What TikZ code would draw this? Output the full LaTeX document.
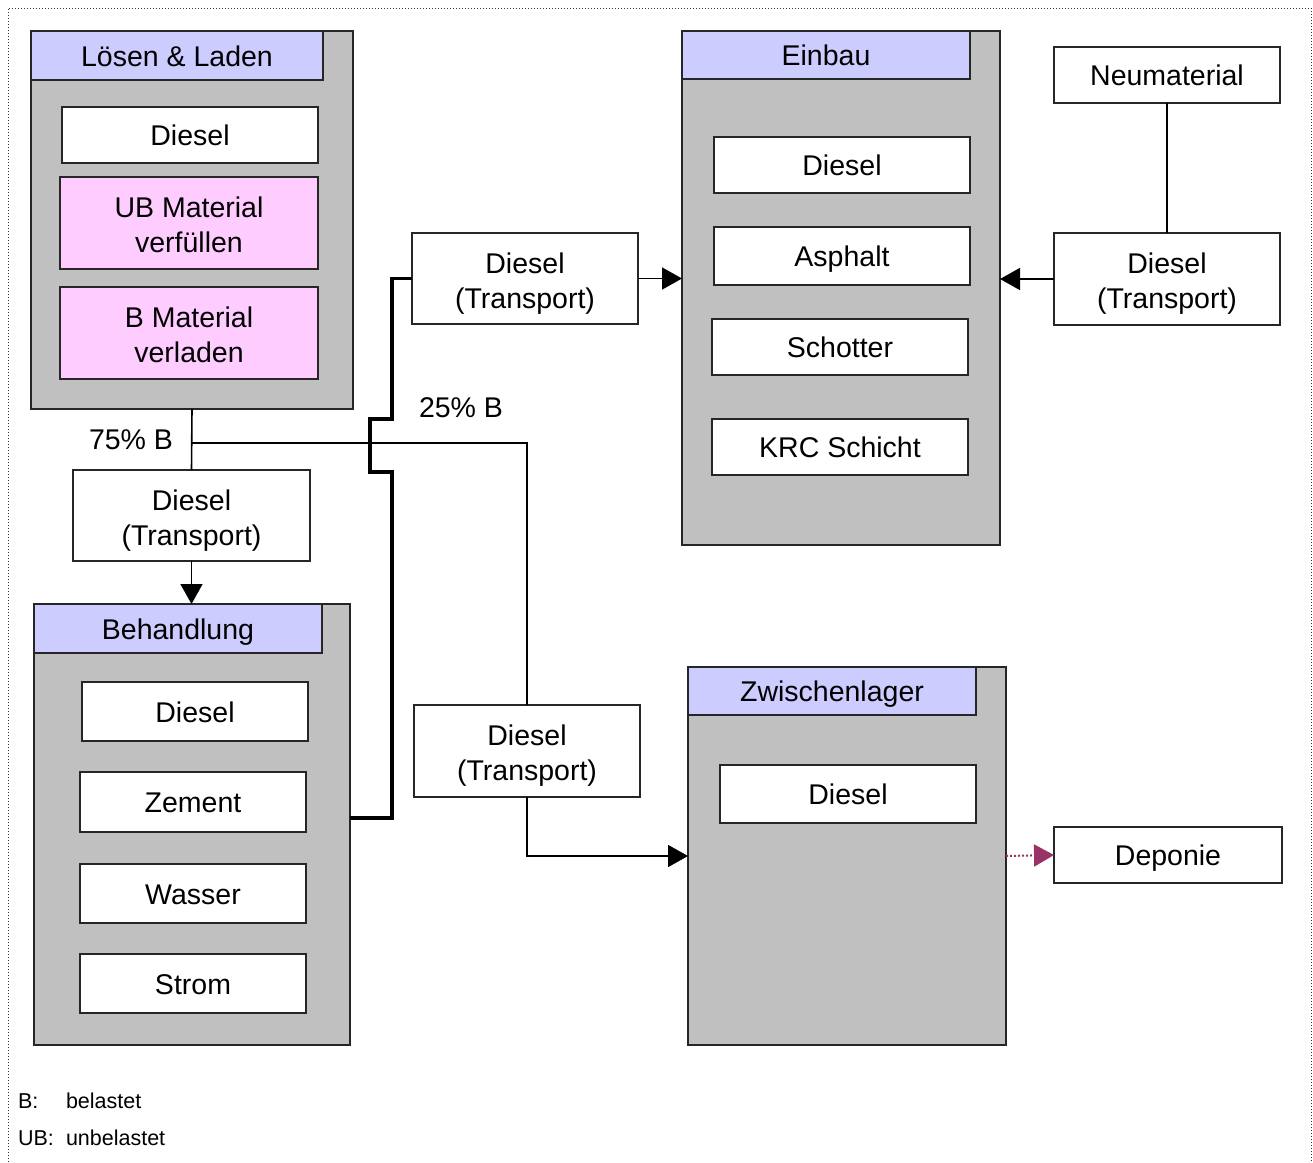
\documentclass[tikz,border=0pt]{standalone}
\usepackage{fontspec}
\setmainfont{Liberation Sans}
\usetikzlibrary{arrows.meta}
\definecolor{groupgray}{HTML}{C0C0C0}
\definecolor{headblue}{HTML}{CCCCFF}
\definecolor{matpink}{HTML}{FFCCFF}
\definecolor{depviolet}{HTML}{993366}
% two centred lines, set on a common cap line and without the descender of the last line
\newcommand{\twolines}[2]{\rule{0pt}{24.5pt}#1\\\raisebox{0pt}[\height][0pt]{#2}}
\begin{document}
\begin{tikzpicture}[x=1pt,y=-1pt,
  every node/.style={font=\fontsize{28.5}{35}\selectfont, inner sep=0pt, outer sep=0pt},
  group/.style={draw=black!85, line width=1.6pt, fill=groupgray, anchor=north west},
  header/.style={draw=black!85, line width=1.6pt, fill=headblue, anchor=north west,
    text height=21pt, text depth=0pt},
  item/.style={draw=black!85, line width=1.6pt, fill=white, text height=21pt, text depth=0pt},
  multiitem/.style={draw=black!85, line width=1.6pt, fill=white, align=center},
  pinkitem/.style={multiitem, fill=matpink},
  flow/.style={line width=1.6pt, draw=black},
  mainflow/.style={line width=3.2pt, draw=black},
  arr/.style={flow, -{Triangle[length=20pt,width=22pt]}},
  deparr/.style={line width=2pt, draw=depviolet, dotted, -{Triangle[length=20pt,width=22pt,fill=depviolet]}},
  legend/.style={font=\fontsize{21.5}{25}\selectfont, anchor=base west}]

\useasboundingbox (0,0) rectangle (1313,1162);
% frame, open at the bottom
\draw[black!80, line width=1pt, dotted] (8,1162) -- (8,8) -- (1311,8) -- (1311,1162);

% --- Loesen & Laden ---
\node[group, minimum width=322pt, minimum height=378pt] (lade) at (31,31) {};
\node[header, minimum width=292pt, minimum height=49pt] (ladeh) at (31,31) {Lösen \& Laden};
\node[item, minimum width=256pt, minimum height=56pt] (ladd) at (190,135) {Diesel};
\node[pinkitem, minimum width=258pt, minimum height=92pt] (ub) at (189,223) {\twolines{UB Material}{verfüllen}};
\node[pinkitem, minimum width=258pt, minimum height=92pt] (bm) at (189,333) {\twolines{B Material}{verladen}};

% --- Diesel (Transport) left ---
\node[multiitem, minimum width=237pt, minimum height=91pt] (dtl) at (191.5,515.5) {\twolines{Diesel}{(Transport)}};

% --- Behandlung ---
\node[group, minimum width=316pt, minimum height=441pt] (beh) at (34,604) {};
\node[header, minimum width=288pt, minimum height=49pt] (behh) at (34,604) {Behandlung};
\node[item, minimum width=226pt, minimum height=59pt] (behd) at (195,711.5) {Diesel};
\node[item, minimum width=226pt, minimum height=60pt] (zem) at (193,802) {Zement};
\node[item, minimum width=226pt, minimum height=59pt] (was) at (193,893.5) {Wasser};
\node[item, minimum width=226pt, minimum height=59pt] (str) at (193,983.5) {Strom};

% --- Diesel (Transport) middle ---
\node[multiitem, minimum width=226pt, minimum height=91pt] (dtt) at (525,278.5) {\twolines{Diesel}{(Transport)}};
\node[multiitem, minimum width=226pt, minimum height=92pt] (dtm) at (527,751) {\twolines{Diesel}{(Transport)}};

% --- Einbau ---
\node[group, minimum width=318pt, minimum height=514pt] (einb) at (682,31) {};
\node[header, minimum width=288pt, minimum height=48pt] (einbh) at (682,31) {Einbau};
\node[item, minimum width=256pt, minimum height=56pt] (eind) at (842,165) {Diesel};
\node[item, minimum width=256pt, minimum height=58pt] (asp) at (842,256) {Asphalt};
\node[item, minimum width=256pt, minimum height=56pt] (sch) at (840,347) {Schotter};
\node[item, minimum width=256pt, minimum height=56pt] (krc) at (840,447) {KRC Schicht};

% --- Neumaterial ---
\node[item, minimum width=226pt, minimum height=56pt] (neu) at (1167,75) {Neumaterial};
\node[multiitem, minimum width=226pt, minimum height=92pt] (dtr) at (1167,279) {\twolines{Diesel}{(Transport)}};

% --- Zwischenlager ---
\node[group, minimum width=318pt, minimum height=378pt] (zw) at (688,667) {};
\node[header, minimum width=288pt, minimum height=48pt] (zwh) at (688,667) {Zwischenlager};
\node[item, minimum width=256pt, minimum height=58pt] (zwd) at (848,794) {Diesel};

% --- Deponie ---
\node[item, minimum width=228pt, minimum height=56pt] (dep) at (1168,855) {Deponie};

% --- flows ---
\coordinate (split) at (192,443);
\draw[flow] (lade.south) -- (dtl.north);
\draw[flow] (split) -- (split -| dtm.north) -- (dtm.north);
\draw[arr] (dtl.south) -- (dtl.south |- beh.north);
\draw[mainflow] (350,818) -- (392,818) -- (392,472) -- (370,472) -- (370,419)
  -- (392,419) -- (392,278.5) -- (dtt.west);
\draw[arr] (dtt.east) -- (dtt.east -| einb.west);
\draw[flow] (neu.south) -- (dtr.north);
\draw[arr] (dtr.west) -- (dtr.west -| einb.east);
\draw[arr] (dtm.south) |- (zw.west);
\draw[deparr] (zw.east) -- (dep.west);

% --- shares ---
\node[text height=21pt, text depth=0pt] (p75) at (131,439) {75\% B};
\node[text height=21pt, text depth=0pt] (p25) at (461,407) {25\% B};

% --- legend ---
\node[legend] (lb) at (18,1108) {B:};
\node[legend] (lbt) at (66,1108) {belastet};
\node[legend] (lub) at (18,1145) {UB:};
\node[legend] (lubt) at (66,1145) {unbelastet};
\end{tikzpicture}
\end{document}
